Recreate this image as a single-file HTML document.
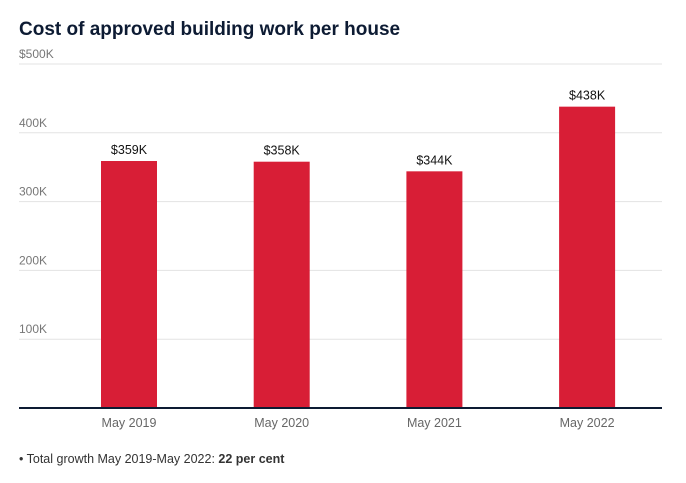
<!DOCTYPE html>
<html><head><meta charset="utf-8"><style>
body{margin:0;background:#fff;width:686px;height:478px;overflow:hidden;font-family:"Liberation Sans",sans-serif}
svg text{font-family:"Liberation Sans",sans-serif}
</style></head><body>
<svg width="686" height="478">
<text x="19" y="35" font-size="19" font-weight="bold" fill="#0d1b33">Cost of approved building work per house</text>
<g id="grid"></g><g id="bars"></g>
<line x1="19" x2="662" y1="408" y2="408" stroke="#0d1b33" stroke-width="2"/>
<text x="19" y="463" font-size="12.5" fill="#333">• Total growth May 2019-May 2022: <tspan font-weight="bold">22 per cent</tspan></text>
</svg>
<script>
const categories=["May 2019","May 2020","May 2021","May 2022"];
const values=[359,358,344,438];
const valueLabels=["$359K","$358K","$344K","$438K"];
const ticks=[100,200,300,400,500];
const tickLabels=["100K","200K","300K","400K","$500K"];
const NS="http://www.w3.org/2000/svg";
const y=v=>408-v*0.688;
const x=i=>129+i*152.7;
function mk(t,a,p,txt){const e=document.createElementNS(NS,t);for(const k in a)e.setAttribute(k,a[k]);if(txt)e.textContent=txt;p.appendChild(e);return e;}
const g=document.getElementById('grid'),b=document.getElementById('bars');
ticks.forEach((t,i)=>{
 const l=mk('line',{x1:19,x2:662,y1:y(t),y2:y(t),stroke:'#e3e3e3'},g);
 
 
 const tx=mk('text',{x:19,y:y(t)-6,'font-size':12,fill:'#777'},g,tickLabels[i]);
 
 
});
categories.forEach((c,i)=>{
 const r=mk('rect',{x:x(i)-28,y:y(values[i]),width:56,height:408-y(values[i]),fill:'#d81e36'},b);
 
 
 const v=mk('text',{x:x(i),y:y(values[i])-7,'font-size':12.5,fill:'#111','text-anchor':'middle'},b,valueLabels[i]);
 
 
 const xl=mk('text',{x:x(i),y:427,'font-size':12.5,fill:'#666','text-anchor':'middle'},b,c);
 
 
});
</script>
</body></html>
